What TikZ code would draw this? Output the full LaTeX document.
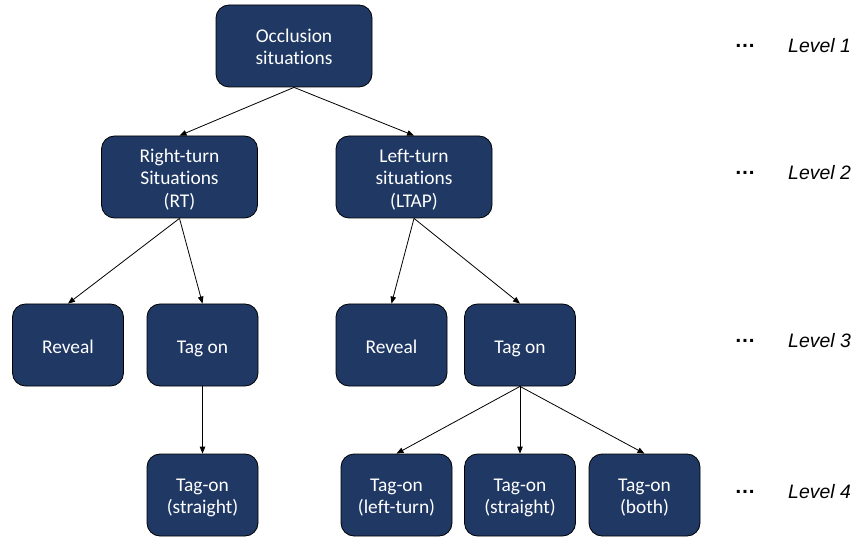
\documentclass[tikz,border=0pt]{standalone}
\usepackage{fontspec}
\setmainfont{Carlito}[Ligatures=NoCommon]
\newfontfamily\levelfont{Liberation Sans}
\usetikzlibrary{arrows.meta}
\definecolor{boxnavy}{HTML}{1F3864}

\begin{document}
\begin{tikzpicture}[x=1bp,y=-1bp,
  box/.style={draw=black, line width=0.8bp, fill=boxnavy, rounded corners=13bp,
    text=white, align=center, inner sep=0pt,
    font=\fontsize{19.5}{22.5}\selectfont,
    textlift=22bp,
    execute at end node={\rule[-5.5bp]{0pt}{5.5bp}}},
  % height of the text block above its last baseline
  textlift/.style={execute at begin node={\rule{0pt}{#1}}},
  widebox/.style={box, minimum width=156bp, minimum height=82bp},
  smallbox/.style={box, minimum width=111bp, minimum height=82bp},
  link/.style={-{Triangle[length=7bp,width=5.5bp]}, line width=0.8bp, black},
  dots/.style={font=\levelfont\bfseries\fontsize{21}{23.5}\selectfont, inner sep=0pt},
  levellabel/.style={font=\levelfont\itshape\fontsize{19.5}{23.5}\selectfont, inner sep=0pt, anchor=west}]
\useasboundingbox (0,0) rectangle (857,538);

% level 1
\node[widebox, textlift=43bp] (root) at (294,46) {Occlusion\\situations};
% level 2
\node[widebox, textlift=66bp] (rt) at (179.5,177) {Right-turn\\Situations\\(RT)};
\node[widebox, textlift=66bp] (ltap) at (414,177) {Left-turn\\situations\\(LTAP)};
% level 3
\node[smallbox] (revealrt) at (68,345) {Reveal};
\node[smallbox] (tagrt) at (202.5,345) {Tag on};
\node[smallbox] (revealltap) at (391.5,345) {Reveal};
\node[smallbox] (tagltap) at (520,345) {Tag on};
% level 4
\node[smallbox, textlift=43bp] (rtstraight) at (202.5,495) {Tag-on\\(straight)};
\node[smallbox, textlift=43bp] (ltleft) at (396.5,495) {Tag-on\\(left-turn)};
\node[smallbox, textlift=43bp] (ltstraight) at (520,495) {Tag-on\\(straight)};
\node[smallbox, textlift=43bp] (ltboth) at (644.5,495) {Tag-on\\(both)};

% connectors
\draw[link] (root.south) -- (rt.north);
\draw[link] (root.south) -- (ltap.north);
\draw[link] (rt.south) -- (revealrt.north);
\draw[link] (rt.south) -- (tagrt.north);
\draw[link] (ltap.south) -- (revealltap.north);
\draw[link] (ltap.south) -- (tagltap.north);
\draw[link] (tagrt.south) -- (rtstraight.north);
\draw[link] (tagltap.south) -- (ltleft.north);
\draw[link] (tagltap.south) -- (ltstraight.north);
\draw[link] (tagltap.south) -- (ltboth.north);

% level markers
\node[dots] (d1) at (745,46) {…};
\node[levellabel] (lv1) at (788,46) {Level 1};
\node[dots] (d2) at (745,173) {…};
\node[levellabel] (lv2) at (788,173) {Level 2};
\node[dots] (d3) at (745,341) {…};
\node[levellabel] (lv3) at (788,341) {Level 3};
\node[dots] (d4) at (745,492) {…};
\node[levellabel] (lv4) at (788,492) {Level 4};
\end{tikzpicture}
\end{document}
